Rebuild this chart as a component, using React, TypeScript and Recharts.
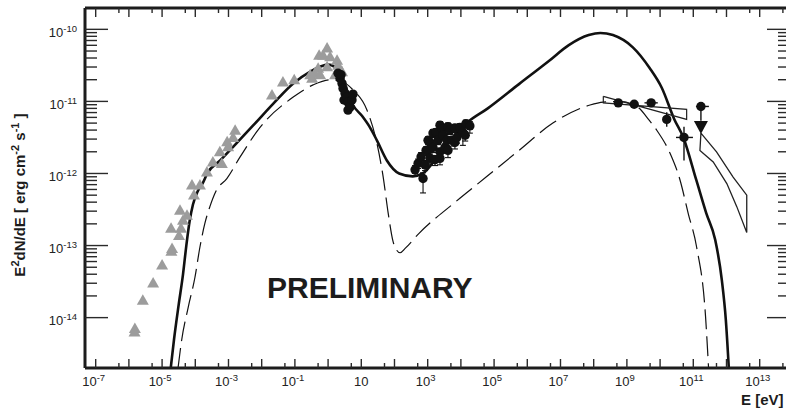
import React from "react";
import {
  ComposedChart,
  Line,
  Scatter,
  XAxis,
  YAxis,
  ReferenceLine,
  ErrorBar,
} from "recharts";

// everything is in log10 space: x = log10(E / eV), y = log10(E^2 dN/dE / erg cm^-2 s^-1)
const X_MIN = -7.322;
const X_MAX = 13.913;
const Y_MIN = -14.699;
const Y_MAX = -9.704;

const X_MAJOR = [-7, -6, -5, -4, -3, -2, -1, 0, 1, 2, 3, 4, 5, 6, 7, 8, 9, 10, 11, 12, 13];
const X_LABELS = [-7, -5, -3, -1, 1, 3, 5, 7, 9, 11, 13];
const Y_MAJOR = [-14, -13, -12, -11, -10];
const Y_LABELS = [-14, -13, -12, -11, -10];

// total model (solid)
const MODEL_TOTAL: [number, number][] = [
  [-4.74, -14.7], [-4.64, -14.3], [-4.5, -13.82], [-4.37, -13.4], [-4.27, -13.0],
  [-4.17, -12.66], [-4.07, -12.43], [-3.93, -12.25], [-3.76, -12.12], [-3.64, -12.0],
  [-3.25, -11.82], [-2.86, -11.63], [-2.25, -11.33], [-1.65, -11.03], [-1.05, -10.75],
  [-0.55, -10.59], [-0.25, -10.52], [0.0, -10.49], [0.2, -10.52], [0.36, -10.6],
  [0.55, -10.82], [0.75, -11.05], [1.02, -11.2], [1.26, -11.36], [1.47, -11.54],
  [1.77, -11.82], [2.14, -12.0], [2.55, -12.04], [2.85, -12.0], [3.4, -11.7],
  [4.2, -11.29], [4.8, -11.1], [5.75, -10.76], [6.65, -10.44], [7.25, -10.22],
  [7.85, -10.08], [8.2, -10.05], [8.58, -10.08], [9.18, -10.25], [9.69, -10.54],
  [10.05, -10.81], [10.43, -11.25], [10.7, -11.5], [11.09, -12.09], [11.39, -12.55],
  [11.66, -12.92], [11.86, -13.48], [11.98, -14.03], [12.07, -14.7],
];

// second model component (dashed)
const MODEL_PART: [number, number][] = [
  [-4.52, -14.7], [-4.41, -14.31], [-4.21, -13.85], [-4.01, -13.44], [-3.86, -13.02],
  [-3.71, -12.69], [-3.56, -12.46], [-3.36, -12.23], [-3.05, -12.07], [-2.65, -11.77],
  [-2.05, -11.36], [-1.05, -10.94], [-0.45, -10.77], [0.06, -10.7], [0.4, -10.72],
  [0.75, -10.84], [1.17, -11.12], [1.47, -11.58], [1.66, -12.05], [1.81, -12.55],
  [1.96, -12.95], [2.06, -13.06], [2.17, -13.1], [2.32, -13.04], [2.74, -12.83],
  [3.77, -12.42], [4.76, -12.05], [5.75, -11.68], [6.77, -11.3], [7.89, -11.05],
  [8.29, -11.01], [8.78, -11.0], [9.3, -11.07], [9.67, -11.26], [9.9, -11.4],
  [10.3, -11.72], [10.6, -12.09], [10.85, -12.56], [11.1, -13.02], [11.37, -13.99],
  [11.46, -14.7],
];

// radio / IR / optical archival points (grey triangles)
const ARCHIVAL: [number, number][] = [
  [-5.82, -14.15], [-5.83, -14.2], [-5.58, -13.76], [-5.27, -13.52], [-5.0, -13.27],
  [-4.7, -13.04], [-4.72, -13.08], [-4.73, -12.76], [-4.49, -12.86], [-4.43, -12.76],
  [-4.46, -12.51], [-4.37, -12.65], [-4.25, -12.58], [-4.1, -12.16], [-4.04, -12.3],
  [-3.86, -12.16], [-3.65, -11.98], [-3.47, -11.84], [-3.2, -11.86], [-3.26, -11.7],
  [-3.01, -11.63], [-3.04, -11.56], [-2.86, -11.5], [-2.8, -11.4], [-1.69, -10.91],
  [-1.36, -10.73], [-1.02, -10.7], [-0.54, -10.63], [-0.48, -10.68], [-0.4, -10.61],
  [-0.3, -10.54], [-0.27, -10.36], [-0.24, -10.63], [-0.15, -10.36], [-0.03, -10.26],
  [-0.03, -10.52], [0.06, -10.38], [0.21, -10.63], [0.27, -10.43], [0.3, -10.5],
  [0.42, -10.59],
];

// optical / UV simultaneous points (black circles)
const OPTICAL: [number, number][] = [
  [0.3, -10.61], [0.36, -10.68], [0.39, -10.63], [0.42, -10.75], [0.45, -10.82],
  [0.48, -10.98], [0.51, -10.89], [0.57, -10.94], [0.6, -11.01], [0.6, -11.12],
  [0.66, -11.08], [0.72, -10.98], [0.75, -10.9],
];

// X-ray spectrum: [logE, logF, err down, err up]
const XRAY: [number, number, number, number][] = [
  [2.62, -11.95, 0.08, 0.06], [2.71, -11.86, 0.07, 0.06], [2.86, -12.07, 0.2, 0.08],
  [2.8, -11.77, 0.07, 0.06], [2.92, -11.88, 0.08, 0.06], [2.95, -11.68, 0.07, 0.05],
  [3.01, -11.54, 0.06, 0.05], [3.01, -11.68, 0.07, 0.05], [3.07, -11.79, 0.08, 0.06],
  [3.07, -11.57, 0.06, 0.05], [3.16, -11.44, 0.06, 0.05], [3.16, -11.64, 0.07, 0.05],
  [3.22, -11.81, 0.08, 0.06], [3.25, -11.43, 0.06, 0.05], [3.31, -11.54, 0.06, 0.05],
  [3.37, -11.33, 0.06, 0.05], [3.37, -11.7, 0.08, 0.05], [3.37, -11.79, 0.09, 0.06],
  [3.43, -11.38, 0.06, 0.05], [3.46, -11.47, 0.06, 0.05], [3.52, -11.64, 0.08, 0.05],
  [3.58, -11.54, 0.07, 0.05], [3.61, -11.35, 0.06, 0.05], [3.61, -11.68, 0.1, 0.05],
  [3.67, -11.4, 0.06, 0.05], [3.73, -11.54, 0.08, 0.05], [3.82, -11.37, 0.06, 0.05],
  [3.82, -11.57, 0.09, 0.05], [3.88, -11.5, 0.08, 0.05], [3.97, -11.36, 0.06, 0.05],
  [4.06, -11.43, 0.18, 0.06], [4.13, -11.47, 0.08, 0.05], [4.15, -11.31, 0.06, 0.05],
  [4.27, -11.34, 0.1, 0.06],
];

// gamma-ray points: [logE, logF, x err down, x err up, y err down, y err up]
const GAMMA: [number, number, number, number, number, number][] = [
  [8.74, -11.02, 0, 0, 0, 0],
  [9.22, -11.04, 0, 0, 0, 0],
  [9.73, -11.02, 0.2, 0.2, 0, 0],
  [10.2, -11.25, 0, 0, 0.1, 0.1],
  [10.72, -11.5, 0.24, 0.27, 0.32, 0.15],
  [11.23, -11.07, 0.15, 0.24, 0.2, 0],
];
const GAMMA_UL: [number, number][] = [[11.23, -11.34]];

// butterflies
const BOWTIE_HE: [number, number][] = [
  [8.29, -10.93], [10.8, -11.25], [10.8, -11.11], [8.29, -11.02], [8.29, -10.93],
];
const BOWTIE_VHE: [number, number][] = [
  [11.23, -11.44], [11.7, -11.7], [12.2, -12.05], [12.61, -12.3], [12.61, -12.82],
  [12.31, -12.46], [12.01, -12.14], [11.6, -11.84], [11.2, -11.68], [11.23, -11.44],
];

const xTicks = [
  ...X_MAJOR,
  ...X_MAJOR.map((v) => v + Math.log10(5)),
].filter((v) => v > X_MIN + 0.05 && v < X_MAX - 0.05);

const yTicks = Y_MAJOR.flatMap((n) =>
  [1, 2, 3, 4, 5, 6, 7, 8, 9].map((k) => n + Math.log10(k))
).filter((v) => v > Y_MIN + 0.02 && v < Y_MAX - 0.02);

const toXY = (arr: [number, number][]) => arr.map(([x, y]) => ({ x, y }));

const FONT = "'Liberation Sans', Arial, Helvetica, sans-serif";
const INK = "#1c1c1c";
const TICK = "#2a2a2a";
const GREY = "#9c9c9c";
const PLOT_TOP = 8;
const PLOT_RIGHT = 790;

const isMajor = (v: number) => Math.abs(v - Math.round(v)) < 1e-6;

function XTick(props: any) {
  const { x, y, payload } = props;
  const v: number = payload.value;
  const major = isMajor(v);
  const len = major ? 9 : 5;
  const exp = Math.round(v);
  const showLabel = major && X_LABELS.includes(exp);
  return (
    <g>
      <line x1={x} x2={x} y1={y} y2={y - len} stroke={TICK} strokeWidth={1.4} />
      <line x1={x} x2={x} y1={PLOT_TOP} y2={PLOT_TOP + len} stroke={TICK} strokeWidth={1.4} />
      {showLabel && (
        <text
          x={exp === 1 ? x : x - 2}
          y={y + 18}
          textAnchor="middle"
          fontSize={13}
          fontFamily={FONT}
          fill="#222"
        >
          10
          {exp !== 1 && (
            <tspan dy={-5} fontSize={9.5}>
              {exp}
            </tspan>
          )}
        </text>
      )}
    </g>
  );
}

function YTick(props: any) {
  const { x, y, payload } = props;
  const v: number = payload.value;
  const major = isMajor(v);
  const len = major ? 23 : 12;
  const exp = Math.round(v);
  const showLabel = major && Y_LABELS.includes(exp);
  return (
    <g>
      <line x1={x} x2={x + len} y1={y} y2={y} stroke={TICK} strokeWidth={1.4} />
      <line x1={PLOT_RIGHT} x2={PLOT_RIGHT - len} y1={y} y2={y} stroke={TICK} strokeWidth={1.4} />
      {showLabel && (
        <text x={x - 8} y={y + 7.5} textAnchor="end" fontSize={13} fontFamily={FONT} fill="#222">
          10
          <tspan dy={-5} fontSize={9.5}>
            {exp}
          </tspan>
        </text>
      )}
    </g>
  );
}

const greyTriangle = (p: any) => (
  <polygon
    points={`${p.cx},${p.cy - 6} ${p.cx - 6},${p.cy + 4.5} ${p.cx + 6},${p.cy + 4.5}`}
    fill={GREY}
  />
);
const blackDot = (p: any) => <circle cx={p.cx} cy={p.cy} r={4.7} fill="#111" />;
const downTriangle = (p: any) => (
  <polygon
    points={`${p.cx - 7},${p.cy - 5} ${p.cx + 7},${p.cy - 5} ${p.cx},${p.cy + 8}`}
    fill="#111"
  />
);

export default function App() {
  const xray = XRAY.map(([x, y, lo, hi]) => ({ x, y, ey: [lo, hi] }));
  const gamma = GAMMA.map(([x, y, xl, xh, yl, yh]) => ({ x, y, ex: [xl, xh], ey: [yl, yh] }));

  return (
    <div
      style={{
        position: "absolute",
        left: 0,
        top: 0,
        width: 786,
        height: 412,
        overflow: "hidden",
        background: "#fff",
      }}
    >
      <ComposedChart width={800} height={412} margin={{ top: 8, right: 10, bottom: 43, left: 84 }}>
        <XAxis
          type="number"
          dataKey="x"
          domain={[X_MIN, X_MAX]}
          allowDataOverflow
          ticks={xTicks}
          interval={0}
          height={1}
          tickSize={0}
          tickMargin={0}
          tickLine={false}
          tick={(p: any) => <XTick {...p} />}
          axisLine={{ stroke: INK, strokeWidth: 3 }}
        />
        <YAxis
          type="number"
          dataKey="y"
          domain={[Y_MIN, Y_MAX]}
          allowDataOverflow
          ticks={yTicks}
          interval={0}
          width={1}
          tickSize={0}
          tickMargin={0}
          tickLine={false}
          tick={(p: any) => <YTick {...p} />}
          axisLine={{ stroke: INK, strokeWidth: 3 }}
        />
        <ReferenceLine y={Y_MAX} stroke={INK} strokeWidth={3} ifOverflow="visible" />
        <ReferenceLine x={X_MAX} stroke={INK} strokeWidth={3} ifOverflow="visible" />

        <Scatter data={toXY(ARCHIVAL)} shape={greyTriangle} isAnimationActive={false} />

        <Line
          data={toXY(MODEL_PART)}
          dataKey="y"
          type="monotone"
          stroke="#111"
          strokeWidth={1.2}
          strokeDasharray="20 7"
          dot={false}
          isAnimationActive={false}
        />
        <Line
          data={toXY(MODEL_TOTAL)}
          dataKey="y"
          type="monotone"
          stroke="#111"
          strokeWidth={2.6}
          dot={false}
          isAnimationActive={false}
        />
        <Line
          data={toXY(BOWTIE_HE)}
          dataKey="y"
          type="linear"
          stroke="#222"
          strokeWidth={1.2}
          dot={false}
          isAnimationActive={false}
        />
        <Line
          data={toXY(BOWTIE_VHE)}
          dataKey="y"
          type="linear"
          stroke="#222"
          strokeWidth={1.3}
          dot={false}
          isAnimationActive={false}
        />

        <Scatter data={toXY(OPTICAL)} shape={blackDot} isAnimationActive={false} />
        <Scatter data={xray} shape={blackDot} isAnimationActive={false}>
          <ErrorBar dataKey="ey" direction="y" width={3} stroke="#111" strokeWidth={1.1} />
        </Scatter>
        <Scatter data={gamma} shape={blackDot} isAnimationActive={false}>
          <ErrorBar dataKey="ex" direction="x" width={0} stroke="#111" strokeWidth={1.4} />
          <ErrorBar dataKey="ey" direction="y" width={0} stroke="#111" strokeWidth={1.4} />
        </Scatter>
        <Scatter data={toXY(GAMMA_UL)} shape={downTriangle} isAnimationActive={false} />
      </ComposedChart>

      <svg
        width={786}
        height={412}
        style={{ position: "absolute", left: 0, top: 0, pointerEvents: "none" }}
      >
        <text x={267} y={298} fontSize={30} fontWeight="bold" fontFamily={FONT} fill={INK}>
          PRELIMINARY
        </text>
        <text
          x={25}
          y={195}
          transform="rotate(-90, 25, 195)"
          textAnchor="middle"
          fontSize={15}
          fontWeight="bold"
          fontFamily={FONT}
          fill={INK}
        >
          E
          <tspan dy={-6} fontSize={11}>2</tspan>
          <tspan dy={6}>dN/dE [ erg cm</tspan>
          <tspan dy={-6} fontSize={11}>-2</tspan>
          <tspan dy={6}>{" s"}</tspan>
          <tspan dy={-6} fontSize={11}>-1</tspan>
          <tspan dy={6}>{" ]"}</tspan>
        </text>
        <text x={741} y={405} fontSize={15} fontWeight="bold" fontFamily={FONT} fill={INK}>
          E [eV]
        </text>
      </svg>
    </div>
  );
}
